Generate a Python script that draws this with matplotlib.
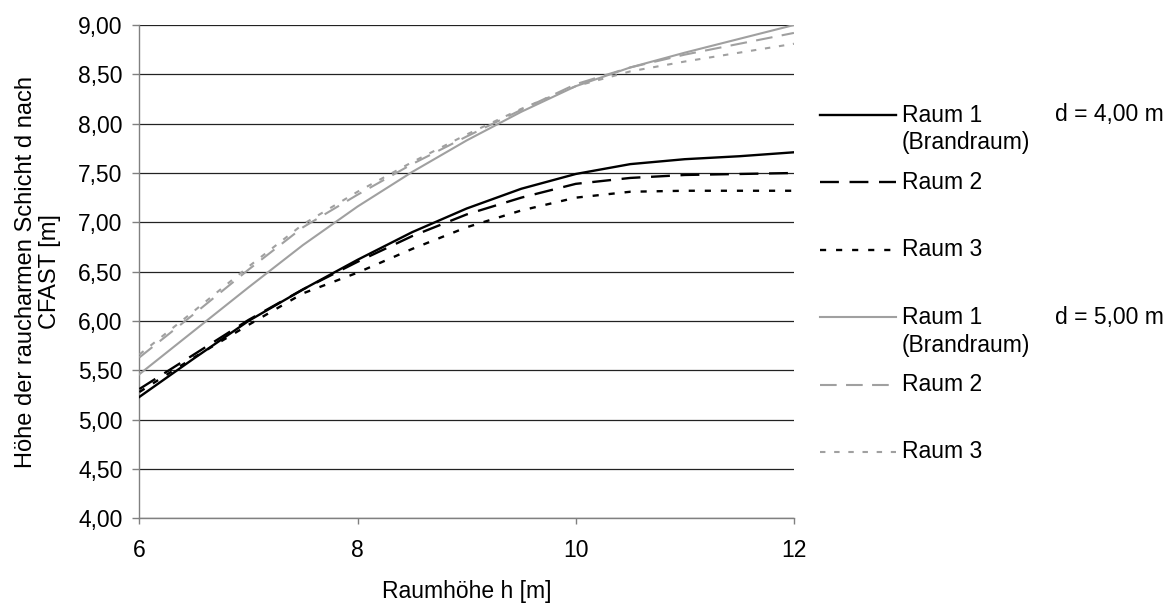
import numpy as np
import matplotlib.pyplot as plt

plt.rcParams['font.family'] = ['Liberation Sans', 'DejaVu Sans']

# Raumhoehe h [m]
h = [6, 6.5, 7, 7.5, 8, 8.5, 9, 9.5, 10, 10.5, 11, 11.5, 12]

# d = 4,00 m
r1_d4 = [5.23, 5.62, 6.00, 6.32, 6.62, 6.90, 7.14, 7.34, 7.49, 7.59, 7.64, 7.67, 7.71]
r2_d4 = [5.31, 5.66, 6.01, 6.32, 6.60, 6.86, 7.08, 7.25, 7.39, 7.45, 7.48, 7.49, 7.50]
r3_d4 = [5.28, 5.63, 5.96, 6.28, 6.49, 6.73, 6.95, 7.12, 7.25, 7.31, 7.32, 7.32, 7.32]

# d = 5,00 m
r1_d5 = [5.46, 5.90, 6.34, 6.77, 7.16, 7.51, 7.83, 8.12, 8.38, 8.57, 8.72, 8.86, 9.00]
r2_d5 = [5.63, 6.07, 6.52, 6.95, 7.28, 7.59, 7.87, 8.14, 8.40, 8.57, 8.70, 8.81, 8.92]
r3_d5 = [5.66, 6.10, 6.55, 6.98, 7.31, 7.61, 7.89, 8.15, 8.38, 8.53, 8.63, 8.72, 8.81]

x_ticks = [6, 8, 10, 12]
y_ticks = [4.0, 4.5, 5.0, 5.5, 6.0, 6.5, 7.0, 7.5, 8.0, 8.5, 9.0]
y_ticklabels = ["4,00", "4,50", "5,00", "5,50", "6,00", "6,50", "7,00", "7,50", "8,00", "8,50", "9,00"]

black = "#000000"
gray = "#a0a0a0"
solid = "-"
dashed = (0, (8, 4.5))
dotted = (0, (2.6, 4.2))

series = [
    (r1_d4, black, solid, 1.7),
    (r2_d4, black, dashed, 1.7),
    (r3_d4, black, dotted, 1.7),
    (r1_d5, gray, solid, 1.5),
    (r2_d5, gray, dashed, 1.5),
    (r3_d5, gray, dotted, 1.5),
]

fig = plt.figure(figsize=(11.71, 6.03), dpi=100)
ax = fig.add_axes([0.119, 0.1405, 0.559, 0.818])

for vals, col, ls, lw in series:
    ax.plot(h, vals, color=col, linestyle=ls, linewidth=lw, zorder=3)

ax.set_xlim(6, 12)
ax.set_ylim(4, 9)
ax.set_xticks(x_ticks)
ax.set_xticklabels([str(t) for t in x_ticks])
ax.set_yticks(y_ticks)
ax.set_yticklabels(y_ticklabels)
ax.yaxis.grid(True, color="#222222", linewidth=0.9)
ax.set_axisbelow(True)

for s in ["top", "right"]:
    ax.spines[s].set_visible(False)
for s in ["left", "bottom"]:
    ax.spines[s].set_color("#808080")
    ax.spines[s].set_linewidth(1.0)
    ax.spines[s].set_zorder(2.5)

ax.tick_params(axis="y", direction="out", length=5, width=1, color="#808080", pad=7, labelsize=16.5)
ax.tick_params(axis="x", direction="out", length=4, width=1, color="#808080", pad=11, labelsize=16.5)

ax.set_ylabel("Höhe der raucharmen Schicht d nach\nCFAST [m]", fontsize=17, linespacing=1.1)
ax.yaxis.set_label_coords(-0.12, 0.5)
ax.set_xlabel("Raumhöhe h [m]", fontsize=16.5)
ax.xaxis.set_label_coords(0.5, -0.125)

# legend drawn by hand (Excel style, evenly spaced rows)
lax = fig.add_axes([0, 0, 1, 1], facecolor="none")
lax.set_xlim(0, 1171)
lax.set_ylim(603, 0)
lax.axis("off")

labels = ["Raum 1", "Raum 2", "Raum 3", "Raum 1", "Raum 2", "Raum 3"]
row_y = 115
for i, (vals, col, ls, lw) in enumerate(series):
    lax.plot([820, 896], [row_y, row_y], color=col, linestyle=ls, linewidth=lw)
    lax.text(902, row_y, labels[i], fontsize=16.5, va="center", ha="left")
    if i % 3 == 0:
        lax.text(902, row_y + 28, "(Brandraum)", fontsize=16.5, va="center", ha="left")
        lax.text(1055, row_y, "d = %s m" % ("4,00" if i == 0 else "5,00"),
                 fontsize=16.5, va="center", ha="left")
    row_y += 67.4

fig.savefig("out.png", dpi=100)
